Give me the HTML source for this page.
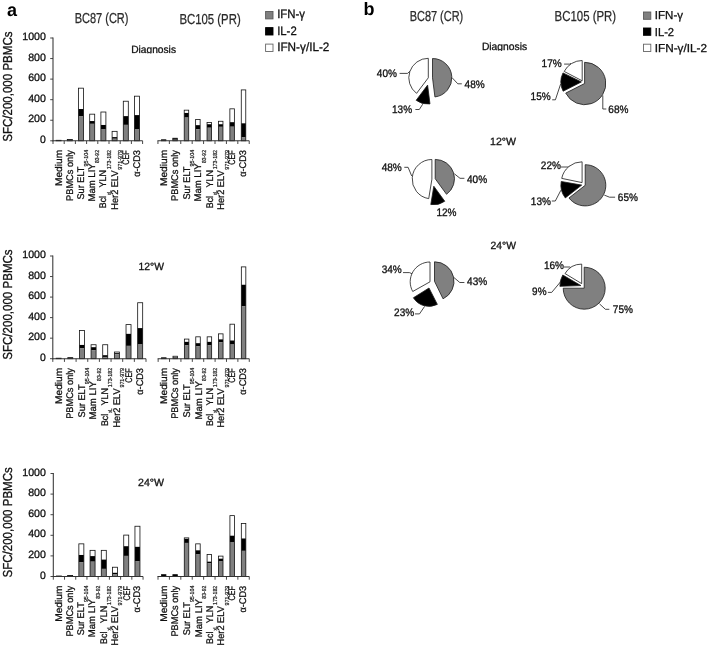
<!DOCTYPE html>
<html><head><meta charset="utf-8"><title>Figure</title>
<style>
html,body{margin:0;padding:0;background:#fff;}
svg{display:block;font-family:"Liberation Sans", sans-serif;}
text{text-rendering:geometricPrecision;}
</style></head><body>
<svg width="709" height="647" viewBox="0 0 709 647">
<defs><clipPath id="cl1"><rect x="120" y="40" width="70" height="13.6"/></clipPath><clipPath id="cl2"><rect x="470" y="38" width="70" height="13.0"/></clipPath></defs>
<rect x="0" y="0" width="709" height="647" fill="#fff"/>
<rect x="56.10" y="140.29" width="5.0" height="0.21" fill="#000"/>
<rect x="56.10" y="140.49" width="5.0" height="0.31" fill="#808080"/>
<rect x="56.10" y="140.29" width="5.0" height="0.51" fill="none" stroke="#111" stroke-width="0.8"/>
<rect x="67.30" y="139.57" width="5.0" height="0.72" fill="#000"/>
<rect x="67.30" y="140.29" width="5.0" height="0.51" fill="#808080"/>
<rect x="67.30" y="139.57" width="5.0" height="1.23" fill="none" stroke="#111" stroke-width="0.8"/>
<rect x="78.50" y="88.17" width="5.0" height="20.87" fill="#fff"/>
<rect x="78.50" y="109.03" width="5.0" height="7.40" fill="#000"/>
<rect x="78.50" y="116.44" width="5.0" height="24.36" fill="#808080"/>
<rect x="78.50" y="88.17" width="5.0" height="52.63" fill="none" stroke="#111" stroke-width="0.8"/>
<rect x="89.70" y="114.17" width="5.0" height="6.89" fill="#fff"/>
<rect x="89.70" y="121.06" width="5.0" height="2.78" fill="#000"/>
<rect x="89.70" y="123.84" width="5.0" height="16.96" fill="#808080"/>
<rect x="89.70" y="114.17" width="5.0" height="26.63" fill="none" stroke="#111" stroke-width="0.8"/>
<rect x="100.90" y="112.02" width="5.0" height="12.95" fill="#fff"/>
<rect x="100.90" y="124.97" width="5.0" height="4.52" fill="#000"/>
<rect x="100.90" y="129.49" width="5.0" height="11.31" fill="#808080"/>
<rect x="100.90" y="112.02" width="5.0" height="28.78" fill="none" stroke="#111" stroke-width="0.8"/>
<rect x="112.10" y="131.34" width="5.0" height="5.76" fill="#fff"/>
<rect x="112.10" y="137.10" width="5.0" height="1.64" fill="#000"/>
<rect x="112.10" y="138.74" width="5.0" height="2.06" fill="#808080"/>
<rect x="112.10" y="131.34" width="5.0" height="9.46" fill="none" stroke="#111" stroke-width="0.8"/>
<rect x="123.30" y="101.22" width="5.0" height="14.91" fill="#fff"/>
<rect x="123.30" y="116.13" width="5.0" height="8.74" fill="#000"/>
<rect x="123.30" y="124.87" width="5.0" height="15.93" fill="#808080"/>
<rect x="123.30" y="101.22" width="5.0" height="39.58" fill="none" stroke="#111" stroke-width="0.8"/>
<rect x="134.50" y="96.18" width="5.0" height="18.92" fill="#fff"/>
<rect x="134.50" y="115.10" width="5.0" height="14.39" fill="#000"/>
<rect x="134.50" y="129.49" width="5.0" height="11.31" fill="#808080"/>
<rect x="134.50" y="96.18" width="5.0" height="44.62" fill="none" stroke="#111" stroke-width="0.8"/>
<line x1="52.50" y1="140.8" x2="142.60" y2="140.8" stroke="#333" stroke-width="1.05"/>
<line x1="53.00" y1="140.8" x2="53.00" y2="144.0" stroke="#333" stroke-width="0.9"/>
<line x1="64.20" y1="140.8" x2="64.20" y2="144.0" stroke="#333" stroke-width="0.9"/>
<line x1="75.40" y1="140.8" x2="75.40" y2="144.0" stroke="#333" stroke-width="0.9"/>
<line x1="86.60" y1="140.8" x2="86.60" y2="144.0" stroke="#333" stroke-width="0.9"/>
<line x1="97.80" y1="140.8" x2="97.80" y2="144.0" stroke="#333" stroke-width="0.9"/>
<line x1="109.00" y1="140.8" x2="109.00" y2="144.0" stroke="#333" stroke-width="0.9"/>
<line x1="120.20" y1="140.8" x2="120.20" y2="144.0" stroke="#333" stroke-width="0.9"/>
<line x1="131.40" y1="140.8" x2="131.40" y2="144.0" stroke="#333" stroke-width="0.9"/>
<line x1="142.60" y1="140.8" x2="142.60" y2="144.0" stroke="#333" stroke-width="0.9"/>
<line x1="53.00" y1="37.5" x2="53.00" y2="141.3" stroke="#333" stroke-width="1.05"/>
<line x1="50.20" y1="140.80" x2="53.00" y2="140.80" stroke="#333" stroke-width="0.9"/>
<text x="40.1" y="142.8" font-size="10.6" text-anchor="start" font-weight="normal" fill="#111" textLength="5.8" lengthAdjust="spacingAndGlyphs" stroke="#111" stroke-width="0.3">0</text>
<line x1="50.20" y1="120.24" x2="53.00" y2="120.24" stroke="#333" stroke-width="0.9"/>
<text x="28.2" y="122.24" font-size="10.6" text-anchor="start" font-weight="normal" fill="#111" textLength="17.7" lengthAdjust="spacingAndGlyphs" stroke="#111" stroke-width="0.3">200</text>
<line x1="50.20" y1="99.68" x2="53.00" y2="99.68" stroke="#333" stroke-width="0.9"/>
<text x="28.2" y="101.68" font-size="10.6" text-anchor="start" font-weight="normal" fill="#111" textLength="17.7" lengthAdjust="spacingAndGlyphs" stroke="#111" stroke-width="0.3">400</text>
<line x1="50.20" y1="79.12" x2="53.00" y2="79.12" stroke="#333" stroke-width="0.9"/>
<text x="28.2" y="81.12" font-size="10.6" text-anchor="start" font-weight="normal" fill="#111" textLength="17.7" lengthAdjust="spacingAndGlyphs" stroke="#111" stroke-width="0.3">600</text>
<line x1="50.20" y1="58.56" x2="53.00" y2="58.56" stroke="#333" stroke-width="0.9"/>
<text x="28.2" y="60.56" font-size="10.6" text-anchor="start" font-weight="normal" fill="#111" textLength="17.7" lengthAdjust="spacingAndGlyphs" stroke="#111" stroke-width="0.3">800</text>
<line x1="50.20" y1="38.00" x2="53.00" y2="38.00" stroke="#333" stroke-width="0.9"/>
<text x="22.299999999999997" y="40.0" font-size="10.6" text-anchor="start" font-weight="normal" fill="#111" textLength="23.6" lengthAdjust="spacingAndGlyphs" stroke="#111" stroke-width="0.3">1000</text>
<text transform="translate(11.7 141.80) rotate(-90) scale(0.8875 1)" font-size="13.0" fill="#111" stroke="#111" stroke-width="0.3">SFC/200,000 PBMCs</text>
<g transform="translate(61.50 149.80) rotate(-90)">
<text transform="translate(-36.30 0) scale(1.0522 1)" font-size="9.7" fill="#111" stroke="#111" stroke-width="0.28">Medium</text>
</g>
<g transform="translate(72.70 149.80) rotate(-90)">
<text transform="translate(-51.10 0) scale(0.9519 1)" font-size="9.7" fill="#111" stroke="#111" stroke-width="0.28">PBMCs only</text>
</g>
<g transform="translate(83.90 149.80) rotate(-90)">
<text transform="translate(-16.60 4.2) scale(0.9192 1)" font-size="5.8" fill="#1a1a1a" stroke="#1a1a1a" stroke-width="0.22">95-104</text>
<text transform="translate(-49.70 0) scale(0.9467 1)" font-size="9.7" fill="#111" stroke="#111" stroke-width="0.28">Sur ELT</text>
</g>
<g transform="translate(95.10 149.80) rotate(-90)">
<text transform="translate(-13.20 4.2) scale(0.8763 1)" font-size="5.8" fill="#1a1a1a" stroke="#1a1a1a" stroke-width="0.22">83-92</text>
<text transform="translate(-51.70 0) scale(0.9843 1)" font-size="9.7" fill="#111" stroke="#111" stroke-width="0.28">Mam LIY</text>
</g>
<g transform="translate(106.30 149.80) rotate(-90)">
<text transform="translate(-19.50 4.2) scale(0.9067 1)" font-size="5.8" fill="#1a1a1a" stroke="#1a1a1a" stroke-width="0.22">173-182</text>
<text transform="translate(-37.80 0) scale(0.9274 1)" font-size="9.7" fill="#111" stroke="#111" stroke-width="0.28">YLN</text>
<text transform="translate(-45.10 4.2) scale(0.7346 1)" font-size="5.8" fill="#1a1a1a" stroke="#1a1a1a" stroke-width="0.22">xL</text>
<text transform="translate(-58.40 0) scale(0.9128 1)" font-size="9.7" fill="#111" stroke="#111" stroke-width="0.28">Bcl</text>
</g>
<g transform="translate(117.50 149.80) rotate(-90)">
<text transform="translate(-19.90 4.2) scale(0.9255 1)" font-size="5.8" fill="#1a1a1a" stroke="#1a1a1a" stroke-width="0.22">971-979</text>
<text transform="translate(-59.90 0) scale(0.9508 1)" font-size="9.7" fill="#111" stroke="#111" stroke-width="0.28">Her2 ELV</text>
</g>
<g transform="translate(129.10 149.80) rotate(-90)">
<text transform="translate(-15.00 0) scale(0.7474 1)" font-size="9.7" fill="#111" stroke="#111" stroke-width="0.28">CEF</text>
</g>
<g transform="translate(139.90 149.80) rotate(-90)">
<text transform="translate(-27.00 0) scale(0.9454 1)" font-size="9.7" fill="#111" stroke="#111" stroke-width="0.28">α-CD3</text>
</g>
<rect x="161.41" y="139.77" width="4.5" height="0.82" fill="#000"/>
<rect x="161.41" y="140.59" width="4.5" height="0.21" fill="#808080"/>
<rect x="161.41" y="139.77" width="4.5" height="1.03" fill="none" stroke="#111" stroke-width="0.8"/>
<rect x="172.81" y="138.23" width="4.5" height="1.54" fill="#000"/>
<rect x="172.81" y="139.77" width="4.5" height="1.03" fill="#808080"/>
<rect x="172.81" y="138.23" width="4.5" height="2.57" fill="none" stroke="#111" stroke-width="0.8"/>
<rect x="184.22" y="110.17" width="4.5" height="2.78" fill="#fff"/>
<rect x="184.22" y="112.94" width="4.5" height="4.63" fill="#000"/>
<rect x="184.22" y="117.57" width="4.5" height="23.23" fill="#808080"/>
<rect x="184.22" y="110.17" width="4.5" height="30.63" fill="none" stroke="#111" stroke-width="0.8"/>
<rect x="195.63" y="119.42" width="4.5" height="5.76" fill="#fff"/>
<rect x="195.63" y="125.17" width="4.5" height="4.11" fill="#000"/>
<rect x="195.63" y="129.29" width="4.5" height="11.51" fill="#808080"/>
<rect x="195.63" y="119.42" width="4.5" height="21.38" fill="none" stroke="#111" stroke-width="0.8"/>
<rect x="207.04" y="122.40" width="4.5" height="1.85" fill="#fff"/>
<rect x="207.04" y="124.25" width="4.5" height="3.50" fill="#000"/>
<rect x="207.04" y="127.74" width="4.5" height="13.06" fill="#808080"/>
<rect x="207.04" y="122.40" width="4.5" height="18.40" fill="none" stroke="#111" stroke-width="0.8"/>
<rect x="218.45" y="121.27" width="4.5" height="2.98" fill="#fff"/>
<rect x="218.45" y="124.25" width="4.5" height="2.57" fill="#000"/>
<rect x="218.45" y="126.82" width="4.5" height="13.98" fill="#808080"/>
<rect x="218.45" y="121.27" width="4.5" height="19.53" fill="none" stroke="#111" stroke-width="0.8"/>
<rect x="229.87" y="108.83" width="4.5" height="13.36" fill="#fff"/>
<rect x="229.87" y="122.19" width="4.5" height="4.52" fill="#000"/>
<rect x="229.87" y="126.72" width="4.5" height="14.08" fill="#808080"/>
<rect x="229.87" y="108.83" width="4.5" height="31.97" fill="none" stroke="#111" stroke-width="0.8"/>
<rect x="241.27" y="89.91" width="4.5" height="33.41" fill="#fff"/>
<rect x="241.27" y="123.32" width="4.5" height="13.78" fill="#000"/>
<rect x="241.27" y="137.10" width="4.5" height="3.70" fill="#808080"/>
<rect x="241.27" y="89.91" width="4.5" height="50.89" fill="none" stroke="#111" stroke-width="0.8"/>
<line x1="157.45" y1="140.8" x2="249.23" y2="140.8" stroke="#333" stroke-width="1.05"/>
<line x1="157.95" y1="140.8" x2="157.95" y2="144.0" stroke="#333" stroke-width="0.9"/>
<line x1="169.36" y1="140.8" x2="169.36" y2="144.0" stroke="#333" stroke-width="0.9"/>
<line x1="180.77" y1="140.8" x2="180.77" y2="144.0" stroke="#333" stroke-width="0.9"/>
<line x1="192.18" y1="140.8" x2="192.18" y2="144.0" stroke="#333" stroke-width="0.9"/>
<line x1="203.59" y1="140.8" x2="203.59" y2="144.0" stroke="#333" stroke-width="0.9"/>
<line x1="215.00" y1="140.8" x2="215.00" y2="144.0" stroke="#333" stroke-width="0.9"/>
<line x1="226.41" y1="140.8" x2="226.41" y2="144.0" stroke="#333" stroke-width="0.9"/>
<line x1="237.82" y1="140.8" x2="237.82" y2="144.0" stroke="#333" stroke-width="0.9"/>
<line x1="249.23" y1="140.8" x2="249.23" y2="144.0" stroke="#333" stroke-width="0.9"/>
<g transform="translate(166.56 149.80) rotate(-90)">
<text transform="translate(-36.30 0) scale(1.0522 1)" font-size="9.7" fill="#111" stroke="#111" stroke-width="0.28">Medium</text>
</g>
<g transform="translate(177.97 149.80) rotate(-90)">
<text transform="translate(-51.10 0) scale(0.9519 1)" font-size="9.7" fill="#111" stroke="#111" stroke-width="0.28">PBMCs only</text>
</g>
<g transform="translate(190.07 149.80) rotate(-90)">
<text transform="translate(-16.60 4.2) scale(0.9192 1)" font-size="5.8" fill="#1a1a1a" stroke="#1a1a1a" stroke-width="0.22">95-104</text>
<text transform="translate(-49.70 0) scale(0.9467 1)" font-size="9.7" fill="#111" stroke="#111" stroke-width="0.28">Sur ELT</text>
</g>
<g transform="translate(201.48 149.80) rotate(-90)">
<text transform="translate(-13.20 4.2) scale(0.8763 1)" font-size="5.8" fill="#1a1a1a" stroke="#1a1a1a" stroke-width="0.22">83-92</text>
<text transform="translate(-51.70 0) scale(0.9843 1)" font-size="9.7" fill="#111" stroke="#111" stroke-width="0.28">Mam LIY</text>
</g>
<g transform="translate(212.89 149.80) rotate(-90)">
<text transform="translate(-19.50 4.2) scale(0.9067 1)" font-size="5.8" fill="#1a1a1a" stroke="#1a1a1a" stroke-width="0.22">173-182</text>
<text transform="translate(-37.80 0) scale(0.9274 1)" font-size="9.7" fill="#111" stroke="#111" stroke-width="0.28">YLN</text>
<text transform="translate(-45.10 4.2) scale(0.7346 1)" font-size="5.8" fill="#1a1a1a" stroke="#1a1a1a" stroke-width="0.22">xL</text>
<text transform="translate(-58.40 0) scale(0.9128 1)" font-size="9.7" fill="#111" stroke="#111" stroke-width="0.28">Bcl</text>
</g>
<g transform="translate(224.30 149.80) rotate(-90)">
<text transform="translate(-19.90 4.2) scale(0.9255 1)" font-size="5.8" fill="#1a1a1a" stroke="#1a1a1a" stroke-width="0.22">971-979</text>
<text transform="translate(-59.90 0) scale(0.9508 1)" font-size="9.7" fill="#111" stroke="#111" stroke-width="0.28">Her2 ELV</text>
</g>
<g transform="translate(235.42 149.80) rotate(-90)">
<text transform="translate(-15.00 0) scale(0.7474 1)" font-size="9.7" fill="#111" stroke="#111" stroke-width="0.28">CEF</text>
</g>
<g transform="translate(246.42 149.80) rotate(-90)">
<text transform="translate(-27.00 0) scale(0.9454 1)" font-size="9.7" fill="#111" stroke="#111" stroke-width="0.28">α-CD3</text>
</g>
<rect x="56.12" y="358.19" width="5.0" height="0.21" fill="#000"/>
<rect x="56.12" y="358.39" width="5.0" height="0.31" fill="#808080"/>
<rect x="56.12" y="358.19" width="5.0" height="0.51" fill="none" stroke="#111" stroke-width="0.8"/>
<rect x="67.78" y="357.67" width="5.0" height="0.62" fill="#000"/>
<rect x="67.78" y="358.29" width="5.0" height="0.41" fill="#808080"/>
<rect x="67.78" y="357.67" width="5.0" height="1.03" fill="none" stroke="#111" stroke-width="0.8"/>
<rect x="79.42" y="330.56" width="5.0" height="14.38" fill="#fff"/>
<rect x="79.42" y="344.94" width="5.0" height="3.18" fill="#000"/>
<rect x="79.42" y="348.12" width="5.0" height="10.58" fill="#808080"/>
<rect x="79.42" y="330.56" width="5.0" height="28.14" fill="none" stroke="#111" stroke-width="0.8"/>
<rect x="91.07" y="344.73" width="5.0" height="2.46" fill="#fff"/>
<rect x="91.07" y="347.20" width="5.0" height="3.08" fill="#000"/>
<rect x="91.07" y="350.28" width="5.0" height="8.42" fill="#808080"/>
<rect x="91.07" y="344.73" width="5.0" height="13.97" fill="none" stroke="#111" stroke-width="0.8"/>
<rect x="102.72" y="344.73" width="5.0" height="10.48" fill="#fff"/>
<rect x="102.72" y="355.21" width="5.0" height="1.75" fill="#000"/>
<rect x="102.72" y="356.95" width="5.0" height="1.75" fill="#808080"/>
<rect x="102.72" y="344.73" width="5.0" height="13.97" fill="none" stroke="#111" stroke-width="0.8"/>
<rect x="114.38" y="352.02" width="5.0" height="1.13" fill="#fff"/>
<rect x="114.38" y="353.15" width="5.0" height="1.13" fill="#000"/>
<rect x="114.38" y="354.28" width="5.0" height="4.42" fill="#808080"/>
<rect x="114.38" y="352.02" width="5.0" height="6.68" fill="none" stroke="#111" stroke-width="0.8"/>
<rect x="126.03" y="324.60" width="5.0" height="9.24" fill="#fff"/>
<rect x="126.03" y="333.85" width="5.0" height="12.02" fill="#000"/>
<rect x="126.03" y="345.86" width="5.0" height="12.84" fill="#808080"/>
<rect x="126.03" y="324.60" width="5.0" height="34.10" fill="none" stroke="#111" stroke-width="0.8"/>
<rect x="137.68" y="302.73" width="5.0" height="25.37" fill="#fff"/>
<rect x="137.68" y="328.10" width="5.0" height="15.92" fill="#000"/>
<rect x="137.68" y="344.01" width="5.0" height="14.69" fill="#808080"/>
<rect x="137.68" y="302.73" width="5.0" height="55.97" fill="none" stroke="#111" stroke-width="0.8"/>
<line x1="52.30" y1="358.7" x2="146.00" y2="358.7" stroke="#333" stroke-width="1.05"/>
<line x1="52.80" y1="358.7" x2="52.80" y2="361.9" stroke="#333" stroke-width="0.9"/>
<line x1="64.45" y1="358.7" x2="64.45" y2="361.9" stroke="#333" stroke-width="0.9"/>
<line x1="76.10" y1="358.7" x2="76.10" y2="361.9" stroke="#333" stroke-width="0.9"/>
<line x1="87.75" y1="358.7" x2="87.75" y2="361.9" stroke="#333" stroke-width="0.9"/>
<line x1="99.40" y1="358.7" x2="99.40" y2="361.9" stroke="#333" stroke-width="0.9"/>
<line x1="111.05" y1="358.7" x2="111.05" y2="361.9" stroke="#333" stroke-width="0.9"/>
<line x1="122.70" y1="358.7" x2="122.70" y2="361.9" stroke="#333" stroke-width="0.9"/>
<line x1="134.35" y1="358.7" x2="134.35" y2="361.9" stroke="#333" stroke-width="0.9"/>
<line x1="146.00" y1="358.7" x2="146.00" y2="361.9" stroke="#333" stroke-width="0.9"/>
<line x1="52.80" y1="255.5" x2="52.80" y2="359.2" stroke="#333" stroke-width="1.05"/>
<line x1="50.00" y1="358.70" x2="52.80" y2="358.70" stroke="#333" stroke-width="0.9"/>
<text x="40.1" y="360.7" font-size="10.6" text-anchor="start" font-weight="normal" fill="#111" textLength="5.8" lengthAdjust="spacingAndGlyphs" stroke="#111" stroke-width="0.3">0</text>
<line x1="50.00" y1="338.16" x2="52.80" y2="338.16" stroke="#333" stroke-width="0.9"/>
<text x="28.2" y="340.16" font-size="10.6" text-anchor="start" font-weight="normal" fill="#111" textLength="17.7" lengthAdjust="spacingAndGlyphs" stroke="#111" stroke-width="0.3">200</text>
<line x1="50.00" y1="317.62" x2="52.80" y2="317.62" stroke="#333" stroke-width="0.9"/>
<text x="28.2" y="319.62" font-size="10.6" text-anchor="start" font-weight="normal" fill="#111" textLength="17.7" lengthAdjust="spacingAndGlyphs" stroke="#111" stroke-width="0.3">400</text>
<line x1="50.00" y1="297.08" x2="52.80" y2="297.08" stroke="#333" stroke-width="0.9"/>
<text x="28.2" y="299.08" font-size="10.6" text-anchor="start" font-weight="normal" fill="#111" textLength="17.7" lengthAdjust="spacingAndGlyphs" stroke="#111" stroke-width="0.3">600</text>
<line x1="50.00" y1="276.54" x2="52.80" y2="276.54" stroke="#333" stroke-width="0.9"/>
<text x="28.2" y="278.54" font-size="10.6" text-anchor="start" font-weight="normal" fill="#111" textLength="17.7" lengthAdjust="spacingAndGlyphs" stroke="#111" stroke-width="0.3">800</text>
<line x1="50.00" y1="256.00" x2="52.80" y2="256.00" stroke="#333" stroke-width="0.9"/>
<text x="22.299999999999997" y="258.0" font-size="10.6" text-anchor="start" font-weight="normal" fill="#111" textLength="23.6" lengthAdjust="spacingAndGlyphs" stroke="#111" stroke-width="0.3">1000</text>
<text transform="translate(11.7 359.70) rotate(-90) scale(0.8875 1)" font-size="13.0" fill="#111" stroke="#111" stroke-width="0.3">SFC/200,000 PBMCs</text>
<g transform="translate(61.52 367.70) rotate(-90)">
<text transform="translate(-36.30 0) scale(1.0522 1)" font-size="9.7" fill="#111" stroke="#111" stroke-width="0.28">Medium</text>
</g>
<g transform="translate(73.18 367.70) rotate(-90)">
<text transform="translate(-51.10 0) scale(0.9519 1)" font-size="9.7" fill="#111" stroke="#111" stroke-width="0.28">PBMCs only</text>
</g>
<g transform="translate(84.83 367.70) rotate(-90)">
<text transform="translate(-16.60 4.2) scale(0.9192 1)" font-size="5.8" fill="#1a1a1a" stroke="#1a1a1a" stroke-width="0.22">95-104</text>
<text transform="translate(-49.70 0) scale(0.9467 1)" font-size="9.7" fill="#111" stroke="#111" stroke-width="0.28">Sur ELT</text>
</g>
<g transform="translate(96.47 367.70) rotate(-90)">
<text transform="translate(-13.20 4.2) scale(0.8763 1)" font-size="5.8" fill="#1a1a1a" stroke="#1a1a1a" stroke-width="0.22">83-92</text>
<text transform="translate(-51.70 0) scale(0.9843 1)" font-size="9.7" fill="#111" stroke="#111" stroke-width="0.28">Mam LIY</text>
</g>
<g transform="translate(108.12 367.70) rotate(-90)">
<text transform="translate(-19.50 4.2) scale(0.9067 1)" font-size="5.8" fill="#1a1a1a" stroke="#1a1a1a" stroke-width="0.22">173-182</text>
<text transform="translate(-37.80 0) scale(0.9274 1)" font-size="9.7" fill="#111" stroke="#111" stroke-width="0.28">YLN</text>
<text transform="translate(-45.10 4.2) scale(0.7346 1)" font-size="5.8" fill="#1a1a1a" stroke="#1a1a1a" stroke-width="0.22">xL</text>
<text transform="translate(-58.40 0) scale(0.9128 1)" font-size="9.7" fill="#111" stroke="#111" stroke-width="0.28">Bcl</text>
</g>
<g transform="translate(119.78 367.70) rotate(-90)">
<text transform="translate(-19.90 4.2) scale(0.9255 1)" font-size="5.8" fill="#1a1a1a" stroke="#1a1a1a" stroke-width="0.22">971-979</text>
<text transform="translate(-59.90 0) scale(0.9508 1)" font-size="9.7" fill="#111" stroke="#111" stroke-width="0.28">Her2 ELV</text>
</g>
<g transform="translate(131.83 367.70) rotate(-90)">
<text transform="translate(-15.00 0) scale(0.7474 1)" font-size="9.7" fill="#111" stroke="#111" stroke-width="0.28">CEF</text>
</g>
<g transform="translate(143.08 367.70) rotate(-90)">
<text transform="translate(-27.00 0) scale(0.9454 1)" font-size="9.7" fill="#111" stroke="#111" stroke-width="0.28">α-CD3</text>
</g>
<rect x="161.59" y="357.78" width="4.5" height="0.72" fill="#000"/>
<rect x="161.59" y="358.49" width="4.5" height="0.21" fill="#808080"/>
<rect x="161.59" y="357.78" width="4.5" height="0.92" fill="none" stroke="#111" stroke-width="0.8"/>
<rect x="172.99" y="356.24" width="4.5" height="1.03" fill="#fff"/>
<rect x="172.99" y="357.26" width="4.5" height="0.62" fill="#000"/>
<rect x="172.99" y="357.88" width="4.5" height="0.82" fill="#808080"/>
<rect x="172.99" y="356.24" width="4.5" height="2.46" fill="none" stroke="#111" stroke-width="0.8"/>
<rect x="184.38" y="339.08" width="4.5" height="2.77" fill="#fff"/>
<rect x="184.38" y="341.86" width="4.5" height="3.29" fill="#000"/>
<rect x="184.38" y="345.14" width="4.5" height="13.56" fill="#808080"/>
<rect x="184.38" y="339.08" width="4.5" height="19.62" fill="none" stroke="#111" stroke-width="0.8"/>
<rect x="195.77" y="336.82" width="4.5" height="6.37" fill="#fff"/>
<rect x="195.77" y="343.19" width="4.5" height="3.18" fill="#000"/>
<rect x="195.77" y="346.38" width="4.5" height="12.32" fill="#808080"/>
<rect x="195.77" y="336.82" width="4.5" height="21.88" fill="none" stroke="#111" stroke-width="0.8"/>
<rect x="207.16" y="336.82" width="4.5" height="5.03" fill="#fff"/>
<rect x="207.16" y="341.86" width="4.5" height="3.29" fill="#000"/>
<rect x="207.16" y="345.14" width="4.5" height="13.56" fill="#808080"/>
<rect x="207.16" y="336.82" width="4.5" height="21.88" fill="none" stroke="#111" stroke-width="0.8"/>
<rect x="218.55" y="333.85" width="4.5" height="5.55" fill="#fff"/>
<rect x="218.55" y="339.39" width="4.5" height="2.88" fill="#000"/>
<rect x="218.55" y="342.27" width="4.5" height="16.43" fill="#808080"/>
<rect x="218.55" y="333.85" width="4.5" height="24.85" fill="none" stroke="#111" stroke-width="0.8"/>
<rect x="229.94" y="324.19" width="4.5" height="16.33" fill="#fff"/>
<rect x="229.94" y="340.52" width="4.5" height="4.01" fill="#000"/>
<rect x="229.94" y="344.53" width="4.5" height="14.17" fill="#808080"/>
<rect x="229.94" y="324.19" width="4.5" height="34.51" fill="none" stroke="#111" stroke-width="0.8"/>
<rect x="241.33" y="266.89" width="4.5" height="17.87" fill="#fff"/>
<rect x="241.33" y="284.76" width="4.5" height="21.57" fill="#000"/>
<rect x="241.33" y="306.32" width="4.5" height="52.38" fill="#808080"/>
<rect x="241.33" y="266.89" width="4.5" height="91.81" fill="none" stroke="#111" stroke-width="0.8"/>
<line x1="157.65" y1="358.7" x2="249.27" y2="358.7" stroke="#333" stroke-width="1.05"/>
<line x1="158.15" y1="358.7" x2="158.15" y2="361.9" stroke="#333" stroke-width="0.9"/>
<line x1="169.54" y1="358.7" x2="169.54" y2="361.9" stroke="#333" stroke-width="0.9"/>
<line x1="180.93" y1="358.7" x2="180.93" y2="361.9" stroke="#333" stroke-width="0.9"/>
<line x1="192.32" y1="358.7" x2="192.32" y2="361.9" stroke="#333" stroke-width="0.9"/>
<line x1="203.71" y1="358.7" x2="203.71" y2="361.9" stroke="#333" stroke-width="0.9"/>
<line x1="215.10" y1="358.7" x2="215.10" y2="361.9" stroke="#333" stroke-width="0.9"/>
<line x1="226.49" y1="358.7" x2="226.49" y2="361.9" stroke="#333" stroke-width="0.9"/>
<line x1="237.88" y1="358.7" x2="237.88" y2="361.9" stroke="#333" stroke-width="0.9"/>
<line x1="249.27" y1="358.7" x2="249.27" y2="361.9" stroke="#333" stroke-width="0.9"/>
<g transform="translate(166.75 367.70) rotate(-90)">
<text transform="translate(-36.30 0) scale(1.0522 1)" font-size="9.7" fill="#111" stroke="#111" stroke-width="0.28">Medium</text>
</g>
<g transform="translate(178.14 367.70) rotate(-90)">
<text transform="translate(-51.10 0) scale(0.9519 1)" font-size="9.7" fill="#111" stroke="#111" stroke-width="0.28">PBMCs only</text>
</g>
<g transform="translate(190.22 367.70) rotate(-90)">
<text transform="translate(-16.60 4.2) scale(0.9192 1)" font-size="5.8" fill="#1a1a1a" stroke="#1a1a1a" stroke-width="0.22">95-104</text>
<text transform="translate(-49.70 0) scale(0.9467 1)" font-size="9.7" fill="#111" stroke="#111" stroke-width="0.28">Sur ELT</text>
</g>
<g transform="translate(201.62 367.70) rotate(-90)">
<text transform="translate(-13.20 4.2) scale(0.8763 1)" font-size="5.8" fill="#1a1a1a" stroke="#1a1a1a" stroke-width="0.22">83-92</text>
<text transform="translate(-51.70 0) scale(0.9843 1)" font-size="9.7" fill="#111" stroke="#111" stroke-width="0.28">Mam LIY</text>
</g>
<g transform="translate(213.00 367.70) rotate(-90)">
<text transform="translate(-19.50 4.2) scale(0.9067 1)" font-size="5.8" fill="#1a1a1a" stroke="#1a1a1a" stroke-width="0.22">173-182</text>
<text transform="translate(-37.80 0) scale(0.9274 1)" font-size="9.7" fill="#111" stroke="#111" stroke-width="0.28">YLN</text>
<text transform="translate(-45.10 4.2) scale(0.7346 1)" font-size="5.8" fill="#1a1a1a" stroke="#1a1a1a" stroke-width="0.22">xL</text>
<text transform="translate(-58.40 0) scale(0.9128 1)" font-size="9.7" fill="#111" stroke="#111" stroke-width="0.28">Bcl</text>
</g>
<g transform="translate(224.40 367.70) rotate(-90)">
<text transform="translate(-19.90 4.2) scale(0.9255 1)" font-size="5.8" fill="#1a1a1a" stroke="#1a1a1a" stroke-width="0.22">971-979</text>
<text transform="translate(-59.90 0) scale(0.9508 1)" font-size="9.7" fill="#111" stroke="#111" stroke-width="0.28">Her2 ELV</text>
</g>
<g transform="translate(235.49 367.70) rotate(-90)">
<text transform="translate(-15.00 0) scale(0.7474 1)" font-size="9.7" fill="#111" stroke="#111" stroke-width="0.28">CEF</text>
</g>
<g transform="translate(246.48 367.70) rotate(-90)">
<text transform="translate(-27.00 0) scale(0.9454 1)" font-size="9.7" fill="#111" stroke="#111" stroke-width="0.28">α-CD3</text>
</g>
<rect x="56.41" y="575.99" width="5.0" height="0.21" fill="#000"/>
<rect x="56.41" y="576.19" width="5.0" height="0.31" fill="#808080"/>
<rect x="56.41" y="575.99" width="5.0" height="0.51" fill="none" stroke="#111" stroke-width="0.8"/>
<rect x="67.63" y="575.47" width="5.0" height="0.62" fill="#000"/>
<rect x="67.63" y="576.09" width="5.0" height="0.41" fill="#808080"/>
<rect x="67.63" y="575.47" width="5.0" height="1.03" fill="none" stroke="#111" stroke-width="0.8"/>
<rect x="78.85" y="543.85" width="5.0" height="11.12" fill="#fff"/>
<rect x="78.85" y="554.97" width="5.0" height="7.42" fill="#000"/>
<rect x="78.85" y="562.39" width="5.0" height="14.11" fill="#808080"/>
<rect x="78.85" y="543.85" width="5.0" height="32.65" fill="none" stroke="#111" stroke-width="0.8"/>
<rect x="90.07" y="550.34" width="5.0" height="5.77" fill="#fff"/>
<rect x="90.07" y="556.11" width="5.0" height="5.56" fill="#000"/>
<rect x="90.07" y="561.67" width="5.0" height="14.83" fill="#808080"/>
<rect x="90.07" y="550.34" width="5.0" height="26.16" fill="none" stroke="#111" stroke-width="0.8"/>
<rect x="101.29" y="550.34" width="5.0" height="9.27" fill="#fff"/>
<rect x="101.29" y="559.61" width="5.0" height="9.27" fill="#000"/>
<rect x="101.29" y="568.88" width="5.0" height="7.62" fill="#808080"/>
<rect x="101.29" y="550.34" width="5.0" height="26.16" fill="none" stroke="#111" stroke-width="0.8"/>
<rect x="112.51" y="567.23" width="5.0" height="5.56" fill="#fff"/>
<rect x="112.51" y="572.79" width="5.0" height="1.65" fill="#000"/>
<rect x="112.51" y="574.44" width="5.0" height="2.06" fill="#808080"/>
<rect x="112.51" y="567.23" width="5.0" height="9.27" fill="none" stroke="#111" stroke-width="0.8"/>
<rect x="123.73" y="535.09" width="5.0" height="11.12" fill="#fff"/>
<rect x="123.73" y="546.22" width="5.0" height="9.68" fill="#000"/>
<rect x="123.73" y="555.90" width="5.0" height="20.60" fill="#808080"/>
<rect x="123.73" y="535.09" width="5.0" height="41.41" fill="none" stroke="#111" stroke-width="0.8"/>
<rect x="134.95" y="526.24" width="5.0" height="20.60" fill="#fff"/>
<rect x="134.95" y="546.84" width="5.0" height="14.21" fill="#000"/>
<rect x="134.95" y="561.05" width="5.0" height="15.45" fill="#808080"/>
<rect x="134.95" y="526.24" width="5.0" height="50.26" fill="none" stroke="#111" stroke-width="0.8"/>
<line x1="52.80" y1="576.5" x2="143.06" y2="576.5" stroke="#333" stroke-width="1.05"/>
<line x1="53.30" y1="576.5" x2="53.30" y2="579.7" stroke="#333" stroke-width="0.9"/>
<line x1="64.52" y1="576.5" x2="64.52" y2="579.7" stroke="#333" stroke-width="0.9"/>
<line x1="75.74" y1="576.5" x2="75.74" y2="579.7" stroke="#333" stroke-width="0.9"/>
<line x1="86.96" y1="576.5" x2="86.96" y2="579.7" stroke="#333" stroke-width="0.9"/>
<line x1="98.18" y1="576.5" x2="98.18" y2="579.7" stroke="#333" stroke-width="0.9"/>
<line x1="109.40" y1="576.5" x2="109.40" y2="579.7" stroke="#333" stroke-width="0.9"/>
<line x1="120.62" y1="576.5" x2="120.62" y2="579.7" stroke="#333" stroke-width="0.9"/>
<line x1="131.84" y1="576.5" x2="131.84" y2="579.7" stroke="#333" stroke-width="0.9"/>
<line x1="143.06" y1="576.5" x2="143.06" y2="579.7" stroke="#333" stroke-width="0.9"/>
<line x1="53.30" y1="473.0" x2="53.30" y2="577.0" stroke="#333" stroke-width="1.05"/>
<line x1="50.50" y1="576.50" x2="53.30" y2="576.50" stroke="#333" stroke-width="0.9"/>
<text x="40.1" y="578.5" font-size="10.6" text-anchor="start" font-weight="normal" fill="#111" textLength="5.8" lengthAdjust="spacingAndGlyphs" stroke="#111" stroke-width="0.3">0</text>
<line x1="50.50" y1="555.90" x2="53.30" y2="555.90" stroke="#333" stroke-width="0.9"/>
<text x="28.2" y="557.9" font-size="10.6" text-anchor="start" font-weight="normal" fill="#111" textLength="17.7" lengthAdjust="spacingAndGlyphs" stroke="#111" stroke-width="0.3">200</text>
<line x1="50.50" y1="535.30" x2="53.30" y2="535.30" stroke="#333" stroke-width="0.9"/>
<text x="28.2" y="537.3" font-size="10.6" text-anchor="start" font-weight="normal" fill="#111" textLength="17.7" lengthAdjust="spacingAndGlyphs" stroke="#111" stroke-width="0.3">400</text>
<line x1="50.50" y1="514.70" x2="53.30" y2="514.70" stroke="#333" stroke-width="0.9"/>
<text x="28.2" y="516.7" font-size="10.6" text-anchor="start" font-weight="normal" fill="#111" textLength="17.7" lengthAdjust="spacingAndGlyphs" stroke="#111" stroke-width="0.3">600</text>
<line x1="50.50" y1="494.10" x2="53.30" y2="494.10" stroke="#333" stroke-width="0.9"/>
<text x="28.2" y="496.1" font-size="10.6" text-anchor="start" font-weight="normal" fill="#111" textLength="17.7" lengthAdjust="spacingAndGlyphs" stroke="#111" stroke-width="0.3">800</text>
<line x1="50.50" y1="473.50" x2="53.30" y2="473.50" stroke="#333" stroke-width="0.9"/>
<text x="22.299999999999997" y="475.5" font-size="10.6" text-anchor="start" font-weight="normal" fill="#111" textLength="23.6" lengthAdjust="spacingAndGlyphs" stroke="#111" stroke-width="0.3">1000</text>
<text transform="translate(11.7 577.50) rotate(-90) scale(0.8875 1)" font-size="13.0" fill="#111" stroke="#111" stroke-width="0.3">SFC/200,000 PBMCs</text>
<g transform="translate(61.81 585.50) rotate(-90)">
<text transform="translate(-36.30 0) scale(1.0522 1)" font-size="9.7" fill="#111" stroke="#111" stroke-width="0.28">Medium</text>
</g>
<g transform="translate(73.03 585.50) rotate(-90)">
<text transform="translate(-51.10 0) scale(0.9519 1)" font-size="9.7" fill="#111" stroke="#111" stroke-width="0.28">PBMCs only</text>
</g>
<g transform="translate(84.25 585.50) rotate(-90)">
<text transform="translate(-16.60 4.2) scale(0.9192 1)" font-size="5.8" fill="#1a1a1a" stroke="#1a1a1a" stroke-width="0.22">95-104</text>
<text transform="translate(-49.70 0) scale(0.9467 1)" font-size="9.7" fill="#111" stroke="#111" stroke-width="0.28">Sur ELT</text>
</g>
<g transform="translate(95.47 585.50) rotate(-90)">
<text transform="translate(-13.20 4.2) scale(0.8763 1)" font-size="5.8" fill="#1a1a1a" stroke="#1a1a1a" stroke-width="0.22">83-92</text>
<text transform="translate(-51.70 0) scale(0.9843 1)" font-size="9.7" fill="#111" stroke="#111" stroke-width="0.28">Mam LIY</text>
</g>
<g transform="translate(106.69 585.50) rotate(-90)">
<text transform="translate(-19.50 4.2) scale(0.9067 1)" font-size="5.8" fill="#1a1a1a" stroke="#1a1a1a" stroke-width="0.22">173-182</text>
<text transform="translate(-37.80 0) scale(0.9274 1)" font-size="9.7" fill="#111" stroke="#111" stroke-width="0.28">YLN</text>
<text transform="translate(-45.10 4.2) scale(0.7346 1)" font-size="5.8" fill="#1a1a1a" stroke="#1a1a1a" stroke-width="0.22">xL</text>
<text transform="translate(-58.40 0) scale(0.9128 1)" font-size="9.7" fill="#111" stroke="#111" stroke-width="0.28">Bcl</text>
</g>
<g transform="translate(117.91 585.50) rotate(-90)">
<text transform="translate(-19.90 4.2) scale(0.9255 1)" font-size="5.8" fill="#1a1a1a" stroke="#1a1a1a" stroke-width="0.22">971-979</text>
<text transform="translate(-59.90 0) scale(0.9508 1)" font-size="9.7" fill="#111" stroke="#111" stroke-width="0.28">Her2 ELV</text>
</g>
<g transform="translate(129.53 585.50) rotate(-90)">
<text transform="translate(-15.00 0) scale(0.7474 1)" font-size="9.7" fill="#111" stroke="#111" stroke-width="0.28">CEF</text>
</g>
<g transform="translate(140.35 585.50) rotate(-90)">
<text transform="translate(-27.00 0) scale(0.9454 1)" font-size="9.7" fill="#111" stroke="#111" stroke-width="0.28">α-CD3</text>
</g>
<rect x="161.46" y="574.65" width="4.5" height="1.65" fill="#000"/>
<rect x="161.46" y="576.29" width="4.5" height="0.21" fill="#808080"/>
<rect x="161.46" y="574.65" width="4.5" height="1.85" fill="none" stroke="#111" stroke-width="0.8"/>
<rect x="172.87" y="574.65" width="4.5" height="1.65" fill="#000"/>
<rect x="172.87" y="576.29" width="4.5" height="0.21" fill="#808080"/>
<rect x="172.87" y="574.65" width="4.5" height="1.85" fill="none" stroke="#111" stroke-width="0.8"/>
<rect x="184.28" y="537.88" width="4.5" height="0.93" fill="#fff"/>
<rect x="184.28" y="538.80" width="4.5" height="4.12" fill="#000"/>
<rect x="184.28" y="542.92" width="4.5" height="33.58" fill="#808080"/>
<rect x="184.28" y="537.88" width="4.5" height="38.62" fill="none" stroke="#111" stroke-width="0.8"/>
<rect x="195.69" y="543.85" width="4.5" height="6.49" fill="#fff"/>
<rect x="195.69" y="550.34" width="4.5" height="3.71" fill="#000"/>
<rect x="195.69" y="554.05" width="4.5" height="22.45" fill="#808080"/>
<rect x="195.69" y="543.85" width="4.5" height="32.65" fill="none" stroke="#111" stroke-width="0.8"/>
<rect x="207.09" y="554.56" width="4.5" height="7.11" fill="#fff"/>
<rect x="207.09" y="561.67" width="4.5" height="1.65" fill="#000"/>
<rect x="207.09" y="563.32" width="4.5" height="13.18" fill="#808080"/>
<rect x="207.09" y="554.56" width="4.5" height="21.94" fill="none" stroke="#111" stroke-width="0.8"/>
<rect x="218.50" y="556.11" width="4.5" height="2.58" fill="#fff"/>
<rect x="218.50" y="558.68" width="4.5" height="2.78" fill="#000"/>
<rect x="218.50" y="561.46" width="4.5" height="15.04" fill="#808080"/>
<rect x="218.50" y="556.11" width="4.5" height="20.39" fill="none" stroke="#111" stroke-width="0.8"/>
<rect x="229.92" y="515.63" width="4.5" height="20.09" fill="#fff"/>
<rect x="229.92" y="535.71" width="4.5" height="6.28" fill="#000"/>
<rect x="229.92" y="542.00" width="4.5" height="34.50" fill="#808080"/>
<rect x="229.92" y="515.63" width="4.5" height="60.87" fill="none" stroke="#111" stroke-width="0.8"/>
<rect x="241.32" y="523.56" width="4.5" height="14.94" fill="#fff"/>
<rect x="241.32" y="538.49" width="4.5" height="12.36" fill="#000"/>
<rect x="241.32" y="550.85" width="4.5" height="25.65" fill="#808080"/>
<rect x="241.32" y="523.56" width="4.5" height="52.94" fill="none" stroke="#111" stroke-width="0.8"/>
<line x1="157.50" y1="576.5" x2="249.28" y2="576.5" stroke="#333" stroke-width="1.05"/>
<line x1="158.00" y1="576.5" x2="158.00" y2="579.7" stroke="#333" stroke-width="0.9"/>
<line x1="169.41" y1="576.5" x2="169.41" y2="579.7" stroke="#333" stroke-width="0.9"/>
<line x1="180.82" y1="576.5" x2="180.82" y2="579.7" stroke="#333" stroke-width="0.9"/>
<line x1="192.23" y1="576.5" x2="192.23" y2="579.7" stroke="#333" stroke-width="0.9"/>
<line x1="203.64" y1="576.5" x2="203.64" y2="579.7" stroke="#333" stroke-width="0.9"/>
<line x1="215.05" y1="576.5" x2="215.05" y2="579.7" stroke="#333" stroke-width="0.9"/>
<line x1="226.46" y1="576.5" x2="226.46" y2="579.7" stroke="#333" stroke-width="0.9"/>
<line x1="237.87" y1="576.5" x2="237.87" y2="579.7" stroke="#333" stroke-width="0.9"/>
<line x1="249.28" y1="576.5" x2="249.28" y2="579.7" stroke="#333" stroke-width="0.9"/>
<g transform="translate(166.61 585.50) rotate(-90)">
<text transform="translate(-36.30 0) scale(1.0522 1)" font-size="9.7" fill="#111" stroke="#111" stroke-width="0.28">Medium</text>
</g>
<g transform="translate(178.02 585.50) rotate(-90)">
<text transform="translate(-51.10 0) scale(0.9519 1)" font-size="9.7" fill="#111" stroke="#111" stroke-width="0.28">PBMCs only</text>
</g>
<g transform="translate(190.12 585.50) rotate(-90)">
<text transform="translate(-16.60 4.2) scale(0.9192 1)" font-size="5.8" fill="#1a1a1a" stroke="#1a1a1a" stroke-width="0.22">95-104</text>
<text transform="translate(-49.70 0) scale(0.9467 1)" font-size="9.7" fill="#111" stroke="#111" stroke-width="0.28">Sur ELT</text>
</g>
<g transform="translate(201.53 585.50) rotate(-90)">
<text transform="translate(-13.20 4.2) scale(0.8763 1)" font-size="5.8" fill="#1a1a1a" stroke="#1a1a1a" stroke-width="0.22">83-92</text>
<text transform="translate(-51.70 0) scale(0.9843 1)" font-size="9.7" fill="#111" stroke="#111" stroke-width="0.28">Mam LIY</text>
</g>
<g transform="translate(212.94 585.50) rotate(-90)">
<text transform="translate(-19.50 4.2) scale(0.9067 1)" font-size="5.8" fill="#1a1a1a" stroke="#1a1a1a" stroke-width="0.22">173-182</text>
<text transform="translate(-37.80 0) scale(0.9274 1)" font-size="9.7" fill="#111" stroke="#111" stroke-width="0.28">YLN</text>
<text transform="translate(-45.10 4.2) scale(0.7346 1)" font-size="5.8" fill="#1a1a1a" stroke="#1a1a1a" stroke-width="0.22">xL</text>
<text transform="translate(-58.40 0) scale(0.9128 1)" font-size="9.7" fill="#111" stroke="#111" stroke-width="0.28">Bcl</text>
</g>
<g transform="translate(224.35 585.50) rotate(-90)">
<text transform="translate(-19.90 4.2) scale(0.9255 1)" font-size="5.8" fill="#1a1a1a" stroke="#1a1a1a" stroke-width="0.22">971-979</text>
<text transform="translate(-59.90 0) scale(0.9508 1)" font-size="9.7" fill="#111" stroke="#111" stroke-width="0.28">Her2 ELV</text>
</g>
<g transform="translate(235.47 585.50) rotate(-90)">
<text transform="translate(-15.00 0) scale(0.7474 1)" font-size="9.7" fill="#111" stroke="#111" stroke-width="0.28">CEF</text>
</g>
<g transform="translate(246.47 585.50) rotate(-90)">
<text transform="translate(-27.00 0) scale(0.9454 1)" font-size="9.7" fill="#111" stroke="#111" stroke-width="0.28">α-CD3</text>
</g>
<text x="131.2" y="52.5" font-size="10.5" text-anchor="start" font-weight="normal" fill="#111" textLength="44.8" lengthAdjust="spacingAndGlyphs" clip-path="url(#cl1)" stroke="#111" stroke-width="0.3">Diagnosis</text>
<text x="138.6" y="269.6" font-size="10.5" text-anchor="start" font-weight="normal" fill="#111" textLength="25.4" lengthAdjust="spacingAndGlyphs" stroke="#111" stroke-width="0.3">12°W</text>
<text x="138.0" y="485.9" font-size="10.5" text-anchor="start" font-weight="normal" fill="#111" textLength="26" lengthAdjust="spacingAndGlyphs" stroke="#111" stroke-width="0.3">24°W</text>
<text x="74.7" y="23.4" font-size="14.4" text-anchor="start" font-weight="normal" fill="#2a2a2a" textLength="53.8" lengthAdjust="spacingAndGlyphs" stroke="#2a2a2a" stroke-width="0.25">BC87 (CR)</text>
<text x="179.4" y="23.5" font-size="14.4" text-anchor="start" font-weight="normal" fill="#2a2a2a" textLength="61.3" lengthAdjust="spacingAndGlyphs" stroke="#2a2a2a" stroke-width="0.25">BC105 (PR)</text>
<text x="7.0" y="15.5" font-size="18" text-anchor="start" font-weight="bold" fill="#000">a</text>
<text x="363.5" y="15.2" font-size="18" text-anchor="start" font-weight="bold" fill="#000">b</text>
<text x="409.7" y="20.8" font-size="14.5" text-anchor="start" font-weight="normal" fill="#2a2a2a" textLength="53.5" lengthAdjust="spacingAndGlyphs" stroke="#2a2a2a" stroke-width="0.25">BC87 (CR)</text>
<text x="554.6" y="20.8" font-size="14.5" text-anchor="start" font-weight="normal" fill="#2a2a2a" textLength="61.5" lengthAdjust="spacingAndGlyphs" stroke="#2a2a2a" stroke-width="0.25">BC105 (PR)</text>
<rect x="265.6" y="11.50" width="7.4" height="7.4" fill="#808080" stroke="#5a5a5a" stroke-width="0.9"/>
<text x="277.2" y="18.3" font-size="12.2" text-anchor="start" font-weight="normal" fill="#111" textLength="27.8" lengthAdjust="spacingAndGlyphs" stroke="#111" stroke-width="0.3">IFN-γ</text>
<rect x="265.6" y="27.60" width="7.4" height="7.4" fill="#000" stroke="#000" stroke-width="0.9"/>
<text x="277.2" y="34.5" font-size="12.2" text-anchor="start" font-weight="normal" fill="#111" textLength="19.5" lengthAdjust="spacingAndGlyphs" stroke="#111" stroke-width="0.3">IL-2</text>
<rect x="265.6" y="44.10" width="7.4" height="7.4" fill="#fff" stroke="#666" stroke-width="0.9"/>
<text x="277.2" y="51.0" font-size="12.2" text-anchor="start" font-weight="normal" fill="#111" textLength="52.2" lengthAdjust="spacingAndGlyphs" stroke="#111" stroke-width="0.3">IFN-γ/IL-2</text>
<rect x="643.5" y="12.00" width="7.3" height="7.3" fill="#808080" stroke="#5a5a5a" stroke-width="0.9"/>
<text x="654.8" y="19.2" font-size="11.5" text-anchor="start" font-weight="normal" fill="#111" textLength="28.2" lengthAdjust="spacingAndGlyphs" stroke="#111" stroke-width="0.3">IFN-γ</text>
<rect x="643.5" y="28.00" width="7.3" height="7.3" fill="#000" stroke="#000" stroke-width="0.9"/>
<text x="654.8" y="35.6" font-size="11.5" text-anchor="start" font-weight="normal" fill="#111" textLength="19.3" lengthAdjust="spacingAndGlyphs" stroke="#111" stroke-width="0.3">IL-2</text>
<rect x="643.5" y="44.20" width="7.3" height="7.3" fill="#fff" stroke="#666" stroke-width="0.9"/>
<text x="654.8" y="51.9" font-size="11.5" text-anchor="start" font-weight="normal" fill="#111" textLength="52.2" lengthAdjust="spacingAndGlyphs" stroke="#111" stroke-width="0.3">IFN-γ/IL-2</text>
<path d="M399.6 73.4L407.5 73.4L410.0 71.2" fill="none" stroke="#1a1a1a" stroke-width="0.8"/>
<path d="M451.9 77.5L457.8 83.8L461.8 83.8" fill="none" stroke="#1a1a1a" stroke-width="0.8"/>
<path d="M415.4 109.5L419.3 109.5L422.7 104.2" fill="none" stroke="#1a1a1a" stroke-width="0.8"/>
<path d="M432.50 77.80L432.50 58.50A19.3 19.3 0 0 1 434.92 96.95Z" fill="#808080" stroke="#1a1a1a" stroke-width="0.8" stroke-linejoin="miter"/>
<path d="M427.60 85.10L429.98 103.95A19.0 19.0 0 0 1 416.17 100.27Z" fill="#000" stroke="#1a1a1a" stroke-width="0.8" stroke-linejoin="miter"/>
<path d="M428.30 77.80L416.56 93.37A19.5 19.5 0 0 1 428.30 58.30Z" fill="#fff" stroke="#1a1a1a" stroke-width="0.8" stroke-linejoin="miter"/>
<text x="376.8" y="76.5" font-size="10.9" text-anchor="start" font-weight="normal" fill="#111" textLength="20.1" lengthAdjust="spacingAndGlyphs" stroke="#111" stroke-width="0.32">40%</text>
<text x="464.6" y="87.7" font-size="10.9" text-anchor="start" font-weight="normal" fill="#111" textLength="20.1" lengthAdjust="spacingAndGlyphs" stroke="#111" stroke-width="0.32">48%</text>
<text x="392.0" y="113.0" font-size="10.9" text-anchor="start" font-weight="normal" fill="#111" textLength="20.1" lengthAdjust="spacingAndGlyphs" stroke="#111" stroke-width="0.32">13%</text>
<path d="M564.1 64.1L569.5 64.1L571.0 63.4" fill="none" stroke="#1a1a1a" stroke-width="0.8"/>
<path d="M552.2 99.8L555.4 99.8L560.6 84.1" fill="none" stroke="#1a1a1a" stroke-width="0.8"/>
<path d="M602.8 95.4L602.8 109.0L606.3 109.0" fill="none" stroke="#1a1a1a" stroke-width="0.8"/>
<path d="M584.60 83.50L584.60 62.30A21.2 21.2 0 1 1 565.71 93.12Z" fill="#808080" stroke="#1a1a1a" stroke-width="0.8" stroke-linejoin="miter"/>
<path d="M581.40 81.90L563.13 91.21A20.5 20.5 0 0 1 562.97 72.91Z" fill="#000" stroke="#1a1a1a" stroke-width="0.8" stroke-linejoin="miter"/>
<path d="M582.20 80.80L564.19 71.43A20.3 20.3 0 0 1 582.20 60.50Z" fill="#fff" stroke="#1a1a1a" stroke-width="0.8" stroke-linejoin="miter"/>
<text x="541.5999999999999" y="66.8" font-size="10.9" text-anchor="start" font-weight="normal" fill="#111" textLength="20.1" lengthAdjust="spacingAndGlyphs" stroke="#111" stroke-width="0.32">17%</text>
<text x="530.5999999999999" y="100.39999999999999" font-size="10.9" text-anchor="start" font-weight="normal" fill="#111" textLength="20.1" lengthAdjust="spacingAndGlyphs" stroke="#111" stroke-width="0.32">15%</text>
<text x="608.3" y="112.6" font-size="10.9" text-anchor="start" font-weight="normal" fill="#111" textLength="20.1" lengthAdjust="spacingAndGlyphs" stroke="#111" stroke-width="0.32">68%</text>
<path d="M404.3 167.3L408.1 167.3L411.7 176.0" fill="none" stroke="#1a1a1a" stroke-width="0.8"/>
<path d="M454.4 173.8L460.0 178.3L464.4 178.3" fill="none" stroke="#1a1a1a" stroke-width="0.8"/>
<path d="M435.20 178.70L435.20 159.40A19.3 19.3 0 0 1 446.54 194.31Z" fill="#808080" stroke="#1a1a1a" stroke-width="0.8" stroke-linejoin="miter"/>
<path d="M433.80 186.20L444.73 201.25A18.6 18.6 0 0 1 430.79 204.56Z" fill="#000" stroke="#1a1a1a" stroke-width="0.8" stroke-linejoin="miter"/>
<path d="M431.90 179.20L428.72 198.64A19.7 19.7 0 0 1 431.90 159.50Z" fill="#fff" stroke="#1a1a1a" stroke-width="0.8" stroke-linejoin="miter"/>
<text x="381.7" y="170.8" font-size="10.9" text-anchor="start" font-weight="normal" fill="#111" textLength="20.1" lengthAdjust="spacingAndGlyphs" stroke="#111" stroke-width="0.32">48%</text>
<text x="467.0" y="183.0" font-size="10.9" text-anchor="start" font-weight="normal" fill="#111" textLength="20.1" lengthAdjust="spacingAndGlyphs" stroke="#111" stroke-width="0.32">40%</text>
<text x="436.40000000000003" y="215.60000000000002" font-size="10.9" text-anchor="start" font-weight="normal" fill="#111" textLength="20.1" lengthAdjust="spacingAndGlyphs" stroke="#111" stroke-width="0.32">12%</text>
<path d="M560.9 167.0L568.5 167.0L569.9 166.1" fill="none" stroke="#1a1a1a" stroke-width="0.8"/>
<path d="M551.8 201.0L555.3 201.0L560.9 190.2" fill="none" stroke="#1a1a1a" stroke-width="0.8"/>
<path d="M604.3 195.1L609.5 197.2L615.1 197.2" fill="none" stroke="#1a1a1a" stroke-width="0.8"/>
<path d="M585.20 185.30L585.20 164.70A20.6 20.6 0 1 1 568.97 197.98Z" fill="#808080" stroke="#1a1a1a" stroke-width="0.8" stroke-linejoin="miter"/>
<path d="M581.70 185.10L565.31 197.91A20.8 20.8 0 0 1 561.22 181.49Z" fill="#000" stroke="#1a1a1a" stroke-width="0.8" stroke-linejoin="miter"/>
<path d="M582.10 182.60L561.73 178.38A20.8 20.8 0 0 1 582.10 161.80Z" fill="#fff" stroke="#1a1a1a" stroke-width="0.8" stroke-linejoin="miter"/>
<text x="540.8" y="168.9" font-size="10.9" text-anchor="start" font-weight="normal" fill="#111" textLength="20.1" lengthAdjust="spacingAndGlyphs" stroke="#111" stroke-width="0.32">22%</text>
<text x="530.8" y="205.10000000000002" font-size="10.9" text-anchor="start" font-weight="normal" fill="#111" textLength="20.1" lengthAdjust="spacingAndGlyphs" stroke="#111" stroke-width="0.32">13%</text>
<text x="617.8" y="200.8" font-size="10.9" text-anchor="start" font-weight="normal" fill="#111" textLength="20.1" lengthAdjust="spacingAndGlyphs" stroke="#111" stroke-width="0.32">65%</text>
<path d="M403.0 272.6L409.4 272.6L412.5 273.9" fill="none" stroke="#1a1a1a" stroke-width="0.8"/>
<path d="M454.0 277.6L459.8 282.5L464.4 282.5" fill="none" stroke="#1a1a1a" stroke-width="0.8"/>
<path d="M414.9 313.9L419.5 313.9L424.6 306.4" fill="none" stroke="#1a1a1a" stroke-width="0.8"/>
<path d="M434.50 281.30L434.50 261.80A19.5 19.5 0 0 1 443.05 298.83Z" fill="#808080" stroke="#1a1a1a" stroke-width="0.8" stroke-linejoin="miter"/>
<path d="M429.00 288.00L437.35 304.39A18.4 18.4 0 0 1 413.40 297.75Z" fill="#000" stroke="#1a1a1a" stroke-width="0.8" stroke-linejoin="miter"/>
<path d="M430.00 281.80L412.73 291.49A19.8 19.8 0 0 1 430.00 262.00Z" fill="#fff" stroke="#1a1a1a" stroke-width="0.8" stroke-linejoin="miter"/>
<text x="381.7" y="273.3" font-size="10.9" text-anchor="start" font-weight="normal" fill="#111" textLength="20.1" lengthAdjust="spacingAndGlyphs" stroke="#111" stroke-width="0.32">34%</text>
<text x="467.1" y="285.2" font-size="10.9" text-anchor="start" font-weight="normal" fill="#111" textLength="20.1" lengthAdjust="spacingAndGlyphs" stroke="#111" stroke-width="0.32">43%</text>
<text x="394.1" y="316.40000000000003" font-size="10.9" text-anchor="start" font-weight="normal" fill="#111" textLength="20.1" lengthAdjust="spacingAndGlyphs" stroke="#111" stroke-width="0.32">23%</text>
<path d="M563.9 267.0L569.9 267.0L571.2 267.8" fill="none" stroke="#1a1a1a" stroke-width="0.8"/>
<path d="M547.9 292.4L551.7 292.4L560.9 281.4" fill="none" stroke="#1a1a1a" stroke-width="0.8"/>
<path d="M599.5 303.9L605.4 309.3L609.3 309.3" fill="none" stroke="#1a1a1a" stroke-width="0.8"/>
<path d="M584.20 288.20L584.20 267.20A21 21 0 1 1 563.20 288.20Z" fill="#808080" stroke="#1a1a1a" stroke-width="0.8" stroke-linejoin="miter"/>
<path d="M580.90 285.60L559.91 286.33A21 21 0 0 1 562.77 275.00Z" fill="#000" stroke="#1a1a1a" stroke-width="0.8" stroke-linejoin="miter"/>
<path d="M581.70 283.60L564.99 273.56A19.5 19.5 0 0 1 581.70 264.10Z" fill="#fff" stroke="#1a1a1a" stroke-width="0.8" stroke-linejoin="miter"/>
<text x="543.9" y="269.0" font-size="10.9" text-anchor="start" font-weight="normal" fill="#111" textLength="20.1" lengthAdjust="spacingAndGlyphs" stroke="#111" stroke-width="0.32">16%</text>
<text x="532.0999999999999" y="294.7" font-size="10.9" text-anchor="start" font-weight="normal" fill="#111" textLength="14.4" lengthAdjust="spacingAndGlyphs" stroke="#111" stroke-width="0.32">9%</text>
<text x="612.8" y="312.7" font-size="10.9" text-anchor="start" font-weight="normal" fill="#111" textLength="20.1" lengthAdjust="spacingAndGlyphs" stroke="#111" stroke-width="0.32">75%</text>
<text x="481.9" y="49.6" font-size="10.5" text-anchor="start" font-weight="normal" fill="#111" textLength="45.2" lengthAdjust="spacingAndGlyphs" clip-path="url(#cl2)" stroke="#111" stroke-width="0.3">Diagnosis</text>
<text x="490.0" y="144.9" font-size="10.5" text-anchor="start" font-weight="normal" fill="#111" textLength="26" lengthAdjust="spacingAndGlyphs" stroke="#111" stroke-width="0.3">12°W</text>
<text x="490.6" y="248.8" font-size="10.5" text-anchor="start" font-weight="normal" fill="#111" textLength="25.4" lengthAdjust="spacingAndGlyphs" stroke="#111" stroke-width="0.3">24°W</text>
</svg>
</body></html>
